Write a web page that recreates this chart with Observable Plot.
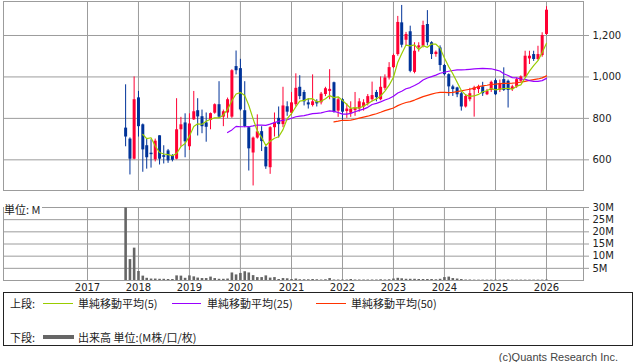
<!DOCTYPE html>
<html><head><meta charset="utf-8">
<script src="https://cdn.jsdelivr.net/npm/d3@7"></script>
<script src="https://cdn.jsdelivr.net/npm/@observablehq/plot@0.6"></script>
<style>
body{margin:0;background:#fff;width:638px;height:362px;overflow:hidden;position:relative;font-family:"DejaVu Sans",sans-serif;}
#top{position:absolute;left:0;top:0;}
#vol{position:absolute;left:0;top:195px;}
.t{position:absolute;font-family:"Noto Sans CJK JP","DejaVu Sans",sans-serif;font-size:11px;line-height:14px;color:#222;white-space:nowrap;}
.ln{position:absolute;height:1px;}
#legend{position:absolute;left:3px;top:292px;width:630px;height:54px;border:1px solid #222;box-sizing:border-box;}
#unit{position:absolute;left:4px;top:202px;background:#fff;padding-right:2px;}
#copy{position:absolute;right:20px;top:350px;font-family:"Liberation Sans",sans-serif;font-size:11px;line-height:14px;color:#444;}
</style></head><body>
<div id="top"></div><div id="vol"></div>
<div id="unit" class="t">単位: M</div>
<div id="legend"></div>
<div class="t" style="left:10px;top:296px">上段:</div>
<div class="ln" style="left:43px;width:30px;top:303px;background:#99cc00"></div>
<div class="t" style="left:78px;top:296px">単純移動平均(5)</div>
<div class="ln" style="left:172px;width:29px;top:303px;background:#9900ff"></div>
<div class="t" style="left:207px;top:296px">単純移動平均(25)</div>
<div class="ln" style="left:316px;width:30px;top:303px;background:#ff3300"></div>
<div class="t" style="left:351px;top:296px">単純移動平均(50)</div>
<div class="t" style="left:10px;top:330px">下段:</div>
<div class="ln" style="left:43px;width:31px;top:335px;height:4px;background:#666"></div>
<div class="t" style="left:78px;top:330px">出来高 単位:(M株/口/枚)</div>
<div id="copy">(c)Quants Research Inc.</div>
<script>
// monthly candles, Oct 2017 .. Jan 2026
const startMonth = Date.UTC(2017, 9, 1);
const endMonth = Date.UTC(2026, 1, 1);
const open = [753,700,603,899,769,668,632,600,716,620,
  643,620,603,745,778,663,793,837,808,778,
  790,825,866,806,826,806,1050,1040,837,755,
  633,705,736,660,562,755,800,770,856,825,
  866,950,925,875,862,880,875,915,930,972,
  835,890,833,825,838,845,855,870,890,925,
  890,945,995,1045,1108,1261,1177,1218,1022,1140,
  1148,1253,1165,1108,1140,1055,1011,952,947,919,
  855,890,935,939,952,914,935,982,935,987,
  979,939,952,979,1000,1087,1108,1084,1103,1205];
const close = [710,603,890,760,648,610,625,690,603,612,
  595,598,745,769,687,773,832,807,760,757,
  823,866,806,832,890,1030,1030,841,760,653,
  705,735,688,566,755,778,770,860,830,875,
  945,905,880,865,880,870,917,943,940,830,
  890,830,845,845,850,880,875,905,910,900,
  950,995,1045,1103,1263,1153,1205,1027,1124,1150,
  1248,1165,1108,1119,1055,1011,952,939,914,855,
  906,919,947,952,919,930,974,914,968,935,
  935,952,987,1000,1100,1100,1084,1108,1200,1322];
const high = [962,706,1000,930,773,700,697,700,716,668,
  650,625,895,805,822,822,930,895,840,826,
  826,870,977,840,898,1035,1125,1085,977,760,
  710,817,760,665,760,826,855,950,880,925,
  1015,1006,935,895,1010,890,925,950,1035,975,
  900,895,870,880,925,895,890,915,975,935,
  1000,1010,1069,1110,1292,1345,1215,1245,1165,1165,
  1269,1320,1170,1125,1150,1060,1015,960,950,925,
  915,945,955,960,974,940,980,990,985,1044,
  985,960,995,1005,1124,1124,1124,1148,1213,1339];
const low = [663,527,600,710,540,555,560,590,575,580,
  583,590,600,662,610,645,790,715,726,685,
  745,820,800,760,800,800,1010,835,755,546,
  474,700,640,554,530,710,705,755,810,815,
  855,890,860,845,855,855,865,905,890,825,
  805,790,800,805,810,830,835,860,880,880,
  885,935,985,1040,1100,1140,1150,1020,1015,1120,
  1140,1150,1084,1095,1027,1005,906,906,900,835,
  850,880,806,920,906,910,925,910,925,930,
  850,930,945,975,995,1060,1075,1080,1095,1200];
const volume = [29.8,8.6,13.3,3.7,1.8,0.9,0.6,0.6,0.5,0.5,
  0.4,0.4,1.9,1.8,0.9,1.9,1.5,1.0,0.8,0.8,
  1.4,0.8,0.5,0.5,0.6,3.1,2.3,2.9,3.6,3.1,
  2.0,1.2,1.2,1.9,1.0,1.2,0.4,0.8,0.7,0.4,
  0.6,0.3,0.3,0.3,0.4,0.3,0.2,0.3,0.8,0.2,
  0.2,0.2,0.2,0.4,0.2,0.2,0.2,0.2,0.2,0.2,
  0.3,0.2,0.3,0.6,0.9,0.7,0.5,0.5,0.5,0.4,
  0.4,0.4,0.4,0.3,0.5,1.2,1.4,0.8,0.6,0.4,
  0.2,0.2,0.15,0.15,0.15,0.15,0.15,0.15,0.15,0.15,
  0.2,0.15,0.15,0.15,0.15,0.15,0.15,0.15,0.15,0.2];
const priceTicks = [600, 800, 1000, 1200];
const volTicks = [5, 10, 15, 20, 25, 30];
const yearTicks = d3.utcYear.range(new Date(Date.UTC(2017,0,1)), new Date(Date.UTC(2027,0,1)));

const UP = "#ff0033", DOWN = "#003399", GRID = "#9c9c9c";
const dates = d3.utcMonth.range(new Date(startMonth), new Date(endMonth));
function sma(arr, k) { return arr.map((_, i) => i < k - 1 ? null : d3.mean(arr.slice(i - k + 1, i + 1))); }
const ma5 = sma(close, 5), ma25 = sma(close, 25), ma50 = sma(close, 50);
const data = dates.map((d, i) => ({date: d, open: open[i], close: close[i], high: high[i], low: low[i],
  vol: volume[i], col: close[i] >= open[i] ? UP : DOWN, ma5: ma5[i], ma25: ma25[i], ma50: ma50[i]}));

// x calibration: 2017-01-01 at px 87, 2026-01-01 at px 546, plot from px 3 to 583
const t0 = Date.UTC(2017,0,1), t1 = Date.UTC(2026,0,1), k = (t1 - t0) / 459;
const xDomain = [new Date(t0 - 84 * k), new Date(t1 + 37 * k)];

const topPlot = Plot.plot({
  width: 638, height: 191, marginLeft: 3, marginRight: 55, marginTop: 1, marginBottom: 1,
  style: {fontFamily: "DejaVu Sans", fontSize: "10px", background: "transparent", overflow: "visible"},
  x: {type: "utc", domain: xDomain, axis: null},
  y: {domain: [452, 1364], axis: null},
  color: {type: "identity"},
  marks: [
    Plot.ruleX(yearTicks, {stroke: GRID}),
    Plot.ruleY(priceTicks, {stroke: GRID}),
    Plot.frame({stroke: GRID}),
    Plot.axisY({anchor: "right", label: null, ticks: priceTicks, tickSize: 5, tickPadding: 4, tickFormat: d3.format(","), stroke: GRID, fill: "#222"}),
    Plot.ruleX(data, {x: "date", y1: "low", y2: "high", stroke: "col", strokeWidth: 1}),
    Plot.ruleX(data, {x: "date", y1: "open", y2: "close", stroke: "col", strokeWidth: 3}),
    Plot.lineY(data.filter(d => d.ma50 != null), {x: "date", y: "ma50", stroke: "#ff3300", strokeWidth: 1.2}),
    Plot.lineY(data.filter(d => d.ma25 != null), {x: "date", y: "ma25", stroke: "#9900ff", strokeWidth: 1.2}),
    Plot.lineY(data.filter(d => d.ma5 != null), {x: "date", y: "ma5", stroke: "#99cc00", strokeWidth: 1.2})
  ]
});
document.getElementById("top").append(topPlot);

const volPlot = Plot.plot({
  width: 638, height: 100, marginLeft: 3, marginRight: 55, marginTop: 12, marginBottom: 15,
  style: {fontFamily: "DejaVu Sans", fontSize: "10px", background: "transparent", overflow: "visible"},
  x: {type: "utc", domain: xDomain, axis: null},
  y: {domain: [0, 30], axis: null},
  marks: [
    Plot.ruleX(yearTicks, {stroke: GRID}),
    Plot.ruleY(volTicks, {stroke: GRID}),
    Plot.frame({stroke: GRID}),
    Plot.ruleX(data, {x: "date", y1: 0, y2: "vol", stroke: "#666", strokeWidth: 2.6}),
    Plot.axisY({anchor: "right", label: null, ticks: volTicks, tickSize: 5, tickPadding: 4, tickFormat: d => d + "M", stroke: GRID, fill: "#222"}),
    Plot.axisX({anchor: "bottom", label: null, ticks: yearTicks, tickSize: 0, tickPadding: 3, tickFormat: d3.utcFormat("%Y"), fill: "#222"})
  ]
});
document.getElementById("vol").append(volPlot);
</script>
</body></html>
